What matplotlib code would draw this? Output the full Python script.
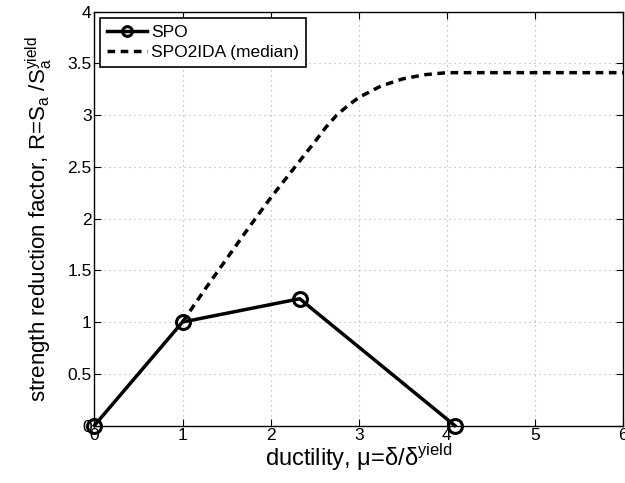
import matplotlib
matplotlib.use("Agg")
import matplotlib.pyplot as plt

# SPO (static pushover) backbone
spo_mu = [0.0, 1.0, 2.33, 4.09]
spo_r = [0.0, 1.0, 1.225, 0.0]

# SPO2IDA median curve
ida_mu = [1.0, 1.25, 1.5, 1.75, 2.0, 2.25, 2.5, 2.625, 2.75, 2.875,
          3.0, 3.25, 3.5, 3.75, 4.0, 6.0]
ida_r = [1.0, 1.31, 1.61, 1.91, 2.2, 2.47, 2.74, 2.88, 3.0, 3.09,
         3.17, 3.28, 3.35, 3.39, 3.41, 3.41]

x_ticks = [0, 1, 2, 3, 4, 5, 6]
y_ticks = [0, 0.5, 1, 1.5, 2, 2.5, 3, 3.5, 4]
y_tick_labels = ["0", "0.5", "1", "1.5", "2", "2.5", "3", "3.5", "4"]

plt.rcParams["font.family"] = ["Liberation Sans", "DejaVu Sans"]

fig = plt.figure(figsize=(6.25, 4.83), dpi=100)
ax = fig.add_axes([0.151, 0.119, 0.846, 0.857])

ax.plot(spo_mu, spo_r, color="black", linewidth=2.5, marker="o",
        markersize=10, markerfacecolor="none", markeredgewidth=2.2,
        clip_on=False, zorder=4, label="SPO")
ax.plot(ida_mu, ida_r, color="black", linewidth=2.5, linestyle=(0, (2.2, 1.6)),
        zorder=3, label="SPO2IDA (median)")

ax.set_xlim(0, 6)
ax.set_ylim(0, 4)
ax.set_xticks(x_ticks)
ax.set_yticks(y_ticks)
ax.set_yticklabels(y_tick_labels)
ax.tick_params(direction="in", top=True, right=True, labelsize=12.5, length=5, pad=2)
ax.grid(True, linestyle=(0, (1, 3.5)), color="#aaaaaa", linewidth=0.8)
for s in ax.spines.values():
    s.set_linewidth(1.0)

ax.set_xlabel("ductility, \u03bc=\u03b4/\u03b4$^\\mathregular{yield}$", fontsize=17, labelpad=-1)
ax.set_ylabel("strength reduction factor, R=S$_\\mathregular{a}$ /S$_\\mathregular{a}^\\mathregular{yield}$",
              fontsize=16, labelpad=9)

leg = ax.legend(loc="upper left", fontsize=12.5, frameon=True, fancybox=False,
                edgecolor="black", framealpha=1, handlelength=2.3,
                borderpad=0.4, labelspacing=0.3, handletextpad=0.2,
                borderaxespad=0.35, markerscale=0.7)
leg.get_frame().set_linewidth(1.2)

fig.savefig("out.png", dpi=100)
